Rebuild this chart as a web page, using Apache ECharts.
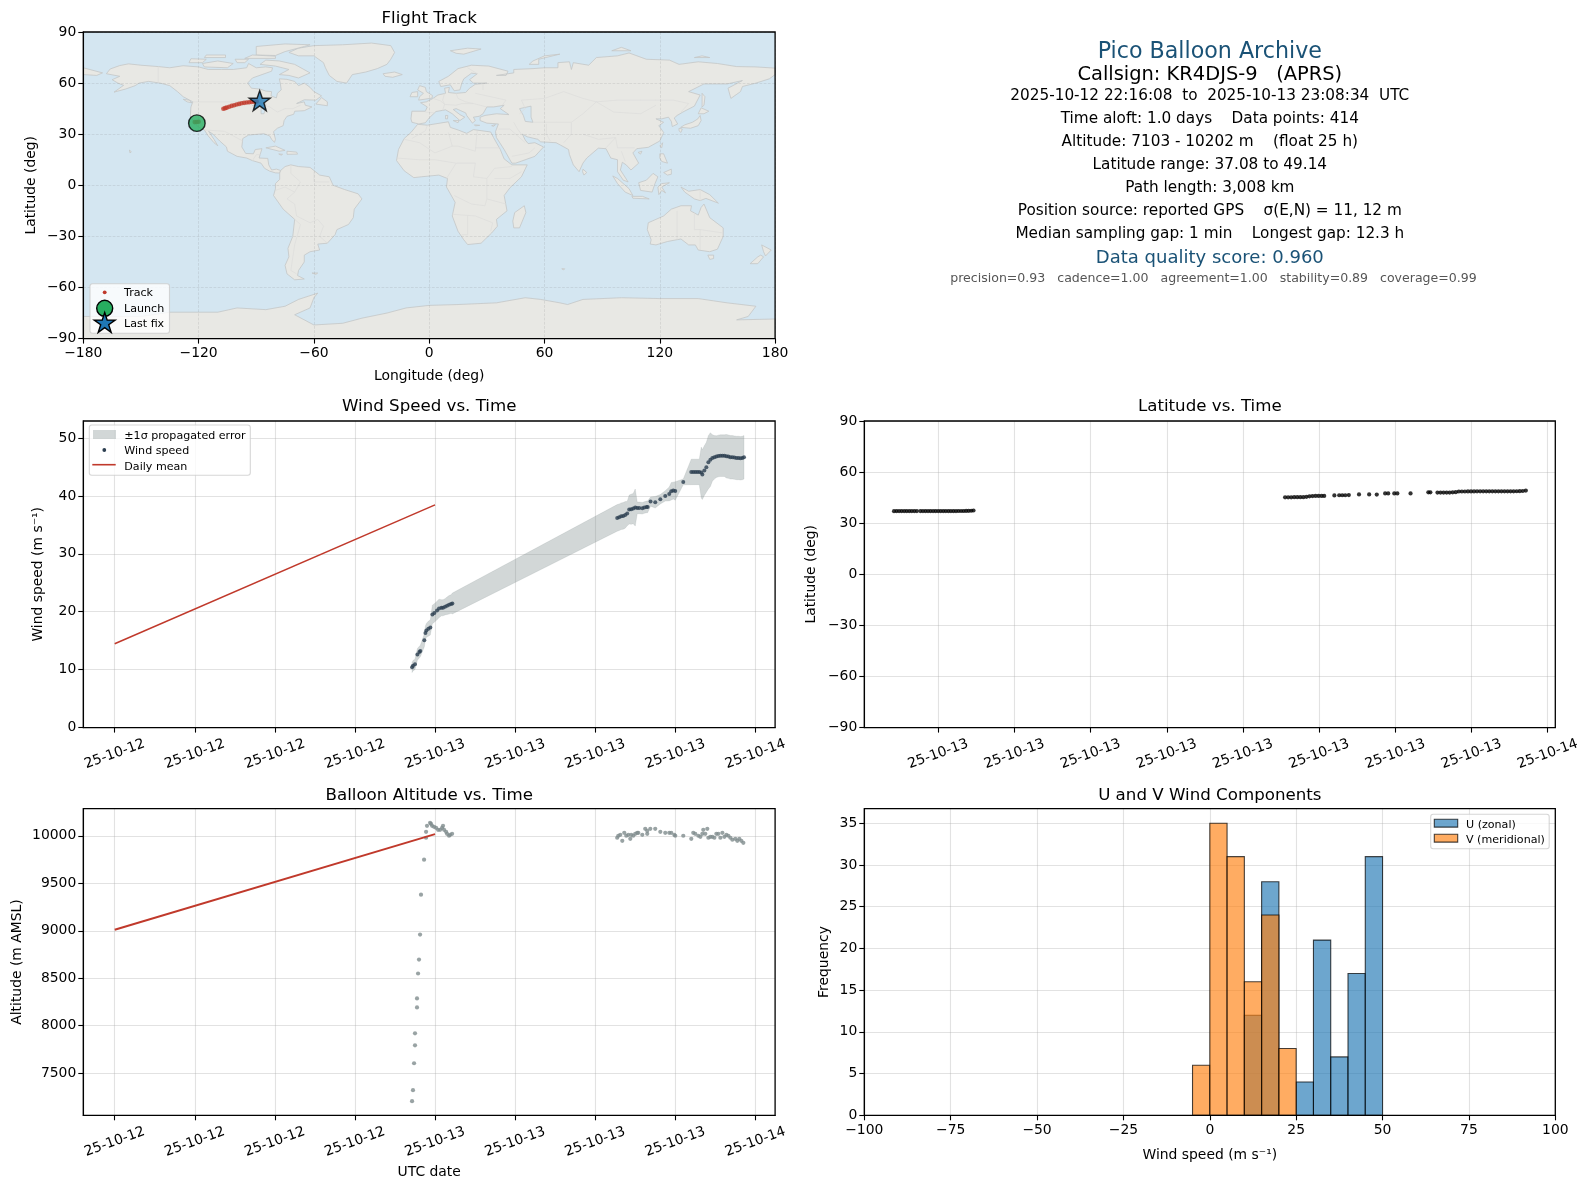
<!DOCTYPE html>
<html><head><meta charset="utf-8">
<style>html,body{margin:0;padding:0;background:#fff}#c{width:1588px;height:1189px}</style>
<script src="https://cdn.jsdelivr.net/npm/echarts@6/dist/echarts.min.js"></script>
</head><body><div id="c"></div>
<script>
// ---------- chart values ----------
const windHours=[22.28,22.35,22.5,22.68,22.83,22.9,23.2,23.28,23.35,23.5,23.65,23.8,23.95,24.15,24.3,24.48,24.6,24.75,24.9,25.05,25.2,25.3,
37.65,37.8,37.95,38.1,38.25,38.4,38.55,38.7,38.85,39,39.15,39.3,39.53,39.68,39.85,39.93,40.15,40.5,40.88,41.25,41.55,41.7,41.85,42,42.6,43.2,43.35,43.5,43.65,43.8,43.95,44.03,44.18,44.33,44.48,44.63,44.78,44.93,45.08,45.23,45.38,45.53,45.68,45.83,45.98,46.13,46.28,46.43,46.58,46.73,46.88,47.03,47.15];
const windSpeed=[10.4,10.69,10.92,12.64,13.04,13.22,15.06,16.32,16.78,17.07,17.3,19.54,19.77,20.23,20.57,20.69,20.69,20.86,21.03,21.2,21.32,21.43,
36.2,36.32,36.49,36.55,36.72,36.95,37.64,37.7,37.81,37.99,37.93,37.93,37.87,37.99,38.1,38.1,39.02,38.91,39.42,40,40.34,40.8,40.92,40.86,42.41,44.14,44.14,44.14,44.14,44.14,44.02,43.68,44.37,44.94,45.8,46.26,46.55,46.66,46.78,46.89,46.95,46.95,46.95,46.84,46.78,46.66,46.66,46.61,46.55,46.55,46.49,46.55,46.66];
const windSigma=[0.9,0.9,0.9,1,1,1,1.1,1.2,1.2,1.3,1.3,1.6,1.6,1.6,1.6,1.4,1.4,1.4,1.5,1.6,1.6,1.8,
2.3,2.3,2.3,2.3,2.3,2.1,2.5,2.6,2.6,3.2,1,1,1,1,1,1,0.8,1,0.8,0.9,1.2,1.5,1.45,1.6,0.5,2.2,2.2,2.2,2.2,2.2,4.4,4.3,4.3,4.3,4.6,4.65,4,3.75,3.6,3.6,3.6,3.6,3.6,3.75,3.75,3.75,3.75,3.75,3.75,3.75,3.75,3.75,3.75];
const latHours=[22.26,22.36,22.46,22.56,22.66,22.76,22.86,22.96,23.06,23.16,23.3,23.4,23.5,23.6,23.7,23.8,23.9,24,24.1,24.2,24.3,24.4,24.5,24.6,24.7,24.8,24.9,25,25.1,25.2,25.3,25.39,
37.66,37.78,37.9,38.02,38.14,38.26,38.38,38.5,38.62,38.74,38.86,38.98,39.1,39.2,39.6,39.79,39.91,40.03,40.17,40.57,40.97,41.27,41.6,41.72,41.96,42.08,42.6,43.3,43.38,43.66,43.78,43.9,44.02,44.14,44.26,44.38,44.5,44.62,44.74,44.86,44.98,45.1,45.22,45.34,45.46,45.58,45.7,45.82,45.94,46.06,46.18,46.3,46.42,46.54,46.66,46.78,46.9,47.02,47.14];
const latitude=[37.08,37.1,37.1,37.1,37.1,37.12,37.12,37.12,37.12,37.12,37.1,37.12,37.12,37.12,37.14,37.14,37.14,37.14,37.14,37.14,37.14,37.14,37.14,37.14,37.14,37.16,37.16,37.16,37.2,37.25,37.3,37.45,
45.2,45.2,45.2,45.25,45.25,45.3,45.3,45.5,45.8,45.95,46,46,46,46,46.3,46.4,46.4,46.4,46.5,46.9,46.9,46.8,47.5,47.5,47.5,47.5,47.5,48.1,48.1,48,48,48,48,48,48.1,48.2,48.6,48.6,48.6,48.65,48.65,48.65,48.7,48.7,48.7,48.7,48.7,48.7,48.7,48.7,48.7,48.7,48.7,48.7,48.7,48.75,48.8,48.9,49.14];
const altHours=[22.28,22.35,22.43,22.5,22.5,22.65,22.65,22.73,22.8,22.88,22.95,23.18,23.33,23.33,23.4,23.63,23.7,23.78,23.93,24.08,24.23,24.38,24.53,24.6,24.68,24.83,24.9,25.05,25.13,25.28,
37.65,37.73,37.88,38.03,38.18,38.33,38.48,38.63,38.7,38.85,39,39.15,39.23,39.53,39.75,39.9,39.9,40.13,40.5,40.88,41.25,41.55,41.7,41.93,42,42.6,43.2,43.35,43.5,43.73,43.88,44.03,44.1,44.25,44.4,44.48,44.63,44.78,44.93,45.08,45.23,45.38,45.53,45.68,45.83,45.98,46.13,46.28,46.5,46.65,46.8,46.95,47.1];
const altitude=[7206,7321,7605,7794,7920,8193,8288,8550,8697,8960,9380,9748,9979,10042,10105,10136,10126,10105,10094,10084,10063,10063,10084,10105,10063,10042,10021,10000,10010,10021,
9979,10000,10010,9947,10031,10000,10010,9968,10010,10000,10021,10031,10031,10010,10073,10021,10052,10073,10073,10042,10031,10031,10031,10010,10000,10000,9968,10031,10021,10000,9989,10021,10063,10021,10073,9979,9989,9989,9979,10021,10021,9979,10031,9989,10010,10000,9979,9958,9968,9947,9968,9947,9926];
const meanHours=[0,24];
const windMean=[14.48,38.45];
const altMean=[9010,10017];
const trackLon=[-122,-121,-120,-107.1,-106.2,-105.4,-104.1,-102.8,-101.5,-100.2,-98.9,-97.6,-96.3,-95,-93.7,-92.4,-91.1,-89.8];
const trackLat=[37.1,37.2,37.3,44.9,45.3,45.6,46.1,46.6,47,47.4,47.8,48.2,48.4,48.6,48.8,49,49.1,49.2];
const launch=[-120.9,36.5];
const lastFix=[-88.2,49.14];
const binLeft=[-5,0,5,10,15,20,25,30,35,40,45];
const binWidth=5;
const uCounts=[0,0,0,12,28,0,4,21,7,17,31];
const vCounts=[6,35,31,16,24,8,0,0,0,0,0];
const leftTimeTicks=[0,6,12,18,24,30,36,42,48];
const rightTimeTicks=[24,27,30,33,36,39,42,45,48];
const windTicks=[0,10,20,30,40,50];
const altTicks=[7500,8000,8500,9000,9500,10000];
const freqTicks=[0,5,10,15,20,25,30,35];
const infoLines=[
 ["Pico Balloon Archive",22.2,"#1a5276",52,1209.8],
 ["Callsign: KR4DJS-9   (APRS)",19.44,"#000",74.7,1209.8],
 ["2025-10-12 22:16:08  to  2025-10-13 23:08:34  UTC",15.28,"#000",96.3,1209.8],
 ["Time aloft: 1.0 days    Data points: 414",15.28,"#000",119.3,1209.8],
 ["Altitude: 7103 - 10202 m    (float 25 h)",15.28,"#000",142.3,1209.8],
 ["Latitude range: 37.08 to 49.14",15.28,"#000",165.3,1209.8],
 ["Path length: 3,008 km",15.28,"#000",188.3,1209.8],
 ["Position source: reported GPS    σ(E,N) = 11, 12 m",15.28,"#000",211.3,1209.8],
 ["Median sampling gap: 1 min    Longest gap: 12.3 h",15.28,"#000",234.3,1209.8],
 ["Data quality score: 0.960",18.05,"#1a5276",258.7,1209.8],
 ["precision=0.93   cadence=1.00   agreement=1.00   stability=0.89   coverage=0.99",12.55,"#555",278.7,1213.5]
];
// simplified coastlines, [lon,lat] rings
const oceanRing=[[-180,-90],[180,-90],[180,90],[-180,90]];
const landRings=[
[[-168,65.5],[-166,68.3],[-161,70.3],[-156.5,71.3],[-150,70.5],[-141,69.7],[-135,69],[-128,70.2],[-120,69.5],[-115,68],[-108,68],[-102,68],[-95,69],[-94,71.5],[-90,69],[-85,69.5],[-81.5,69],[-82,67],[-87,65],[-92,63],[-94.5,60],[-92.5,57],[-88,56.5],[-85,55.3],[-82,55],[-82.3,52.5],[-79.5,51.3],[-79,54],[-77,56],[-77.5,60],[-78,62.5],[-74,62.2],[-70,61],[-68,58.5],[-65,60],[-62,57.5],[-60,55],[-56,52.5],[-59,50],[-65,50.2],[-69,48],[-65,49],[-64.5,47],[-61,46],[-65,43.8],[-70,43.5],[-70.5,41.7],[-74,40.5],[-75.5,38],[-76,35],[-79,33.5],[-81,31.5],[-80,27],[-80.5,25.2],[-82,27],[-83,29],[-86,30.3],[-89,30],[-94,29.5],[-97,27.5],[-97.5,22.5],[-95.5,18.7],[-91.5,18.5],[-90.5,21],[-87,21.5],[-88,18],[-88.5,16],[-84,15.8],[-83.5,12],[-82,9],[-79.5,9.5],[-77.3,8.7],[-77.8,7.2],[-80,7.3],[-83,8.3],[-85.7,10],[-87.5,13],[-92,14.5],[-95,16],[-100,17],[-105,20],[-105.5,22.5],[-109,26],[-112.5,30],[-114.8,31.7],[-112,27],[-110,23.2],[-112,25],[-115,29],[-117,32.5],[-120.5,34.5],[-122.5,37.5],[-124.3,40.5],[-124,46],[-123,49],[-128,52],[-131,55],[-135,58.5],[-140,60],[-146,61],[-151,60],[-153,58.5],[-158,56.5],[-164,54.7],[-159,58.7],[-162,60],[-165,62],[-161,64]],
[[-77.3,8.7],[-75,11],[-72,12],[-68,11],[-62,10.5],[-57,6],[-52,5],[-50,0],[-44,-2.5],[-37,-5],[-35,-8],[-39,-14],[-39.5,-19],[-42,-23],[-48,-26],[-49,-29],[-53,-34],[-58,-34.5],[-57,-38],[-62,-39],[-65,-41],[-65,-45],[-68,-50],[-68.5,-53],[-65,-55],[-70,-55.5],[-74,-52],[-75,-47],[-73,-42],[-73.5,-37],[-71,-30],[-70,-20],[-76,-14],[-81,-6],[-80,-2],[-80,1],[-77.8,3.5],[-77.8,7.2]],
[[-73,78],[-68,80.5],[-60,82],[-45,82.5],[-30,83.5],[-20,82],[-18,78],[-20,74],[-22,71],[-27,68.5],[-33,66.5],[-40,65],[-43,60],[-48,61],[-52,64.5],[-54,69],[-55,72],[-60,76],[-68,76]],
[[-62,66],[-68,63],[-73,64.5],[-78,65],[-73,68],[-80,70],[-88,71],[-85,73.5],[-78,73],[-70,71]],
[[-90,76.5],[-80,76.2],[-75,78.5],[-65,81.5],[-62,82.5],[-75,83],[-90,81.5]],
[[-117,69.5],[-105,69],[-102,71.5],[-110,73],[-118,71.5]],
[[-125,72],[-118,72],[-116,74],[-124,74.3]],
[[-96,74.5],[-80,74.5],[-80,75.8],[-92,76.5]],
[[-117,75],[-106,75],[-106,76.5],[-116,76.5]],
[[-100,72],[-96,72],[-94,74],[-101,74]],
[[-59,47.7],[-53,46.7],[-53,49],[-56,51.5]],
[[-85,22],[-80,23],[-75,20.5],[-78,20]],
[[-74,20],[-69,19.5],[-68.5,18.3],[-74,18.2]],
[[-78.3,18.4],[-76.3,18.2],[-77,17.7]],
[[-24,65.5],[-18,66.5],[-14,65],[-19,63.4],[-23,64]],
[[-128,50.5],[-125,50],[-123.5,48.4],[-126,49]],
[[-156,20.7],[-155,19.7],[-155.7,19]],
[[-5.5,50],[1.5,51.2],[1.7,52.7],[-1.5,55],[-2,57.5],[-5,58.5],[-6,56],[-3,54],[-5,52]],
[[-10,52],[-6,52],[-6,55],[-9,54.5]],
[[-9,37],[-9.5,39],[-9,43.5],[-2,43.5],[-1,46],[-4.5,48.5],[-1.5,49],[2,51],[4.5,53],[8.5,54],[8,57],[10.5,57.5],[10,54.5],[14,54],[19,54.5],[21,57],[24,59.3],[30,60],[23,60],[21,62],[25,65.5],[22,65.8],[18,62.5],[17,60],[16,56],[13,55.5],[11,59],[6,58],[5,61],[10,64],[15,68.5],[22,70.5],[31,70],[41,67],[40,64.5],[35,64.5],[44,66],[44,68],[54,68.5],[60,69],[67,69],[67,72],[73,72.5],[74,68],[75,72],[83,70.5],[87,75],[98,76],[104,77.7],[113,74],[125,73.5],[130,71],[140,72.5],[150,71.5],[160,69.7],[170,69.5],[180,68.8],[180,65],[177,62.5],[170,60],[163,58],[162,55],[157,51],[155.5,57],[163,61.5],[155,59.5],[143,59.5],[135,55],[141,53],[138,46.5],[132,43],[129,41],[127.5,39.5],[129.3,36],[126.5,34.5],[126,37.5],[124.5,40],[121,39],[118,39],[122,37],[119.5,35],[122,31],[120,26],[114,22.3],[108,21.5],[106,19],[109,13],[105,9],[102.5,12],[100.5,13.5],[99.5,9],[103.5,2],[101,3],[98,8],[98,15],[94.5,16],[92,21.5],[88,21.8],[82,16],[80,13],[78,8],[75,12],[73,18],[72.5,21],[68.5,23.5],[66,25],[58,25.5],[56.5,27],[51,28.5],[48.5,30],[50,26.5],[51.5,24.5],[55,25],[59.5,22.5],[55,17],[45,13],[43,13],[39,21],[35,28],[34.5,31.5],[36,36],[30,36.5],[26.5,38],[26.5,40],[29,41],[35,42],[41.5,41.5],[37,45],[39,47],[33.5,46],[30,46],[28,42],[26,40.5],[23,40],[24,38],[22.5,36.5],[19.5,41],[19,42.5],[14,45],[12.5,44.5],[16,41.5],[18.5,40],[16,38],[12,42],[8.5,44.3],[3.5,43.3],[0,39.5],[-2,36.7],[-5.5,36]],
[[-6,35.8],[-1,35.3],[10,37.3],[11,34],[15,32.5],[19.5,30.5],[23,32.7],[32,31.3],[33.5,28],[37,21],[39,15.5],[43,12],[51,12],[48,5],[42,-1.5],[39,-6],[40.5,-15],[35,-20],[35.5,-24],[32.5,-28],[27,-34],[20,-34.8],[18,-32],[15,-27],[12,-18],[13.5,-10],[9,-1],[9.5,4],[5,6],[-4,5],[-8,4.5],[-13,8.5],[-17,14.5],[-16,21],[-13,27.5],[-9.5,31]],
[[49.5,-12],[50.3,-16],[47,-25],[44,-25],[43.5,-21],[44.5,-16]],
[[80,9.5],[82,7.5],[80.5,6],[79.8,8]],
[[130.8,34],[136,33.5],[140,35],[141.5,38],[141,41],[139.8,39],[137,37],[133,35.5]],
[[140,42],[141.5,45.5],[145.5,43.5],[143,42]],
[[130,33.5],[131.7,33],[131,31],[130,32]],
[[142,54],[143.5,52],[143,47],[142,46],[142,50]],
[[120,23],[121.5,25],[121,22]],
[[108.7,19.3],[110.7,20],[110,18.3]],
[[120,18.5],[122,18.5],[124,13],[121,14],[120,16]],
[[122,7.5],[126,9.5],[126,6.5],[124,6]],
[[95.5,5.5],[98,4],[104,-2],[106,-6],[102,-4],[98,1]],
[[105.5,-6.5],[111,-6.5],[114.5,-8],[106,-7.6]],
[[109,1.5],[113,3],[116.5,7],[119,5],[117.5,1],[116,-4],[110,-3]],
[[119.5,-5.5],[119,-1],[121,1],[125,1.5],[121,-1],[123,-4.5],[121,-3]],
[[131,-1],[135,-3.5],[141,-2.5],[146,-5.5],[150.5,-10.5],[144,-7.7],[141,-9],[138,-8],[133,-4]],
[[114,-22],[113.5,-26],[115.5,-32],[115,-34.5],[118,-35],[124,-33],[131,-31.5],[135,-35],[138.5,-35],[140,-38],[146,-39],[150,-37.5],[153,-30],[153,-25],[146,-19],[143,-11],[141.5,-13],[140,-17.5],[136,-15],[136.5,-12],[131,-12],[126,-14],[122,-18]],
[[145,-41],[148,-41],[148,-43],[146,-43.5]],
[[173,-35],[178,-38],[175,-41.5],[174,-39]],
[[172.5,-41],[174,-42],[171,-46],[167,-46],[171,-42]],
[[11,79],[20,80.5],[27,80],[18,77],[14,77.5]],
[[52,71],[57,71],[57,74],[68,77],[60,76],[54,73]],
[[95,79],[105,79],[100,81]],
[[138,75],[146,75],[142,76]],
[[8.5,41],[9.7,41],[9.5,39],[8.5,39]],
[[12.5,38],[15.5,38],[15,36.7]],
[[23.5,35.5],[26.3,35.2],[24,34.9]],
[[32.5,35],[34.5,35.6],[33.5,34.6]],
[[-61,-51.5],[-58,-51.5],[-59,-52.3]],
[[69,-49],[70.5,-49],[70,-49.7]],
[[-180,69],[-170,66],[-173,64.5],[-180,65]],
[[-180,-90],[-180,-77],[-150,-77],[-135,-74.5],[-110,-74.5],[-100,-72],[-85,-73],[-75,-71],[-68,-67],[-58,-63.3],[-60,-66],[-62,-72],[-70,-76],[-60,-82],[-45,-81],[-35,-78],[-22,-75],[-12,-72],[0,-70.5],[15,-70],[35,-69],[50,-66],[58,-67],[68,-69],[72,-70],[80,-67],[100,-66],[120,-66.5],[140,-66.5],[155,-69],[170,-71],[166,-77],[160,-79],[180,-78.5],[180,-90]]
];
const lakeRings=[[[47,45],[53,46.5],[53,40],[54,37],[50,37.5],[49,41]],[[-92,46.8],[-85,46.8],[-85,48],[-89,48.5]],[[-87.5,42],[-86,42],[-85,45.5],[-87.5,45.5]]];
const borderLines=[
[[-123,49],[-95,49],[-89,48],[-83,46],[-79,43],[-75,45],[-71,45],[-67,47]],[[-141,69.7],[-141,60]],[[-117,32.5],[-106.5,31.7],[-97,26]],[[-92,14.5],[-90,18],[-88,18]],
[[-72,12],[-72,7],[-67,2],[-70,-4],[-74,-8],[-70,-11],[-69,-18],[-62,-22],[-58,-20],[-55,-24],[-57,-30],[-53,-34]],[[-70,-20],[-67,-23],[-70,-35],[-72,-50],[-69,-52]],[[-80,-3],[-75,-1],[-70,-4]],[[-60,8],[-60,2],[-52,2]],
[[-2,43],[3,42.5]],[[2,51],[6,49.5],[8,47.5],[7,44]],[[8,54],[7,50],[8,47.5],[14,47],[17,48],[23,48],[30,46]],[[14,54],[15,51],[19,49],[23,48]],[[24,54],[32,52],[40,50],[38,47]],[[28,56],[28,60]],[[20,69],[25,65.5]],
[[47,42],[50,45],[48,50],[60,51],[70,55],[80,51],[87,49],[98,50],[110,50],[118,50],[127,50],[135,48],[131,43]],[[87,49],[80,42],[74,37],[66,37],[54,37]],[[87,49],[96,43],[110,42],[118,47]],[[61,36],[61,30],[63,26]],[[74,37],[74,30],[70,25]],[[80,30],[88,27],[97,28],[98,22],[102,22],[107,22]],[[97,28],[92,22]],[[100,20],[102,14]],[[44,37],[46,33],[48,30]],[[36,33],[42,33],[46,29],[50,25]],[[43,17],[52,19],[55,22]],
[[-9,27.5],[-2,32],[-1,35]],[[-13,27],[-5,25],[3,19],[12,23],[10,31]],[[12,23],[15,23],[24,20],[25,32]],[[24,22],[37,22]],[[-17,16],[-5,15],[3,15],[14,13],[24,13],[23,5],[30,4],[34,10],[43,11]],[[14,13],[9,4]],[[30,4],[30,-8],[29,-12],[22,-11],[13,-6]],[[30,-8],[40,-11]],[[12,-17],[24,-18],[33,-22],[32,-27]],[[20,-18],[20,-29],[17,-29]],[[34,4],[42,4],[48,8]],
[[129,-15],[129,-32]],[[138,-16],[138,-26],[141,-26],[141,-38]],[[141,-26],[153,-28]],[[141,-2.5],[141,-9]]
];
// ---------- helpers ----------
const FONT='"DejaVu Sans"';
const GRID='rgba(176,176,176,0.36)';
const dateBase=Date.UTC(2025,9,12);
const pad=n=>String(n).padStart(2,'0');
function dateLabel(h){const d=new Date(dateBase+h*3.6e6);return pad(d.getUTCFullYear()%100)+'-'+pad(d.getUTCMonth()+1)+'-'+pad(d.getUTCDate());}
const minus=v=>String(v).replace('-','\u2212');
const zip=(a,b)=>a.map((v,i)=>[v,b[i]]);
const gridOf=(l,t,w,h)=>({left:l,top:t,width:w,height:h,containLabel:false,show:true,z:10,borderColor:'#000',borderWidth:1.3,backgroundColor:'transparent'});
function axis(extra){
 const ax=Object.assign({type:'value',scale:false,
  axisLine:{show:true,onZero:false,lineStyle:{color:'#000',width:1.1}},
  axisTick:{show:true,length:5,lineStyle:{color:'#000',width:1.1}},
  axisLabel:{color:'#000',fontFamily:FONT,fontSize:13.9,margin:8,hideOverlap:false,showMinLabel:true,showMaxLabel:true},
  splitLine:{show:true,lineStyle:{color:GRID,width:1.1}},
  nameLocation:'middle',nameTextStyle:{color:'#000',fontFamily:FONT,fontSize:13.9}},extra);
 if(extra.tickValues){
  ax.axisTick=Object.assign({},ax.axisTick,{customValues:extra.tickValues});
  ax.axisLabel=Object.assign({},ax.axisLabel,{customValues:extra.tickValues},extra.label||{});
  delete ax.tickValues;
 } else if(extra.label){ax.axisLabel=Object.assign({},ax.axisLabel,extra.label);}
 delete ax.label;
 return ax;
}
const rotLabel={rotate:20,align:'center',verticalAlign:'middle',margin:26.5,formatter:dateLabel};
const yLabel={margin:7};
const titleAt=(text,cx,top)=>({text,left:cx,top,textAlign:'center',padding:0,textStyle:{color:'#000',fontFamily:FONT,fontSize:16.67,fontWeight:'normal'}});
function ringSeries(rings,name,style,z,gridIdx){
 return {type:'custom',name,xAxisIndex:gridIdx,yAxisIndex:gridIdx,z,silent:true,animation:false,clip:true,
  data:rings.map((r,i)=>[i]),encode:{x:[],y:[]},
  renderItem:(p,api)=>({type:'polygon',shape:{points:rings[p.dataIndex].map(c=>api.coord(c))},style}),
  tooltip:{show:false}};
}
function lineSeries(lines,name,style,z,gridIdx){
 return {type:'custom',name,xAxisIndex:gridIdx,yAxisIndex:gridIdx,z,silent:true,animation:false,clip:true,
  data:lines.map((r,i)=>[i]),encode:{x:[],y:[]},
  renderItem:(p,api)=>({type:'polyline',shape:{points:lines[p.dataIndex].map(c=>api.coord(c))},style})};
}
function histSeries(counts,name,fill){
 const data=binLeft.map((l,i)=>[l,counts[i]]).filter(d=>d[1]>0);
 return {type:'custom',name,xAxisIndex:4,yAxisIndex:4,z:3,animation:false,data,encode:{x:0,y:1},
  renderItem:(p,api)=>{
   const a=api.coord([api.value(0),api.value(1)]),b=api.coord([api.value(0)+binWidth,0]);
   return {type:'rect',shape:{x:a[0],y:a[1],width:b[0]-a[0],height:b[1]-a[1]},style:{fill,stroke:'rgba(0,0,0,0.72)',lineWidth:1.1}};
  }};
}
const STAR='path://M0,-10 L2.35,-3.09 9.51,-3.09 3.8,1.18 5.88,8.09 0,3.82 -5.88,8.09 -3.8,1.18 -9.51,-3.09 -2.35,-3.09Z';
function starPts(cx,cy,r){const o=[];for(let i=0;i<10;i++){const a=-Math.PI/2+i*Math.PI/5,q=i%2?r*0.382:r;o.push([cx+q*Math.cos(a),cy+q*Math.sin(a)]);}return o;}
function legText(text,x,y){return {type:'text',z:101,silent:true,style:{text,x,y:y+1,fill:'#000',font:'11.1px '+FONT,textAlign:'left',textVerticalAlign:'middle',textBaseline:'middle'}};}
function legBox(x,y,w,h){return {type:'rect',z:100,silent:true,shape:{x,y,width:w,height:h,r:2.5},style:{fill:'rgba(255,255,255,0.8)',stroke:'rgba(204,204,204,0.8)',lineWidth:1.1}};}
const graphics=[];
infoLines.forEach(l=>graphics.push({type:'text',z:50,silent:true,style:{text:l[0],x:l[4],y:l[3],fill:l[2],font:l[1]+'px '+FONT,textAlign:'center',textVerticalAlign:'middle',textBaseline:'middle'}}));
// map legend
graphics.push(legBox(90,283.7,79.5,49.6),
 {type:'circle',z:101,silent:true,shape:{cx:104.7,cy:292.3,r:1.9},style:{fill:'#c0392b'}},legText('Track',124,292.3),
 {type:'circle',z:101,silent:true,shape:{cx:104.7,cy:308.3,r:8},style:{fill:'#27ae60',stroke:'#000',lineWidth:1.4}},legText('Launch',124,308.3),
 {type:'polygon',z:102,silent:true,shape:{points:starPts(104.7,323.5,11)},style:{fill:'#1f77b4',stroke:'#000',lineWidth:1.4}},legText('Last fix',124,323.3));
// wind legend
graphics.push(legBox(89.3,425,161,50.3),
 {type:'rect',z:101,silent:true,shape:{x:93,y:430,width:23,height:9},style:{fill:'rgba(127,140,141,0.35)'}},legText('\u00b11\u03c3 propagated error',124.3,435.3),
 {type:'circle',z:101,silent:true,shape:{cx:104.3,cy:450,r:1.9},style:{fill:'#2c3e50'}},legText('Wind speed',124.3,450),
 {type:'line',z:101,silent:true,shape:{x1:92.3,y1:464.7,x2:115.7,y2:464.7},style:{stroke:'#c0392b',lineWidth:1.6}},legText('Daily mean',124.3,466));
// histogram legend
graphics.push(legBox(1430.7,814.3,118.5,34.4),
 {type:'rect',z:101,silent:true,shape:{x:1434.3,y:819.3,width:23.4,height:7.8},style:{fill:'rgba(31,119,180,0.65)',stroke:'rgba(0,0,0,0.72)',lineWidth:1.1}},legText('U (zonal)',1466,824),
 {type:'rect',z:101,silent:true,shape:{x:1434.3,y:834.3,width:23.4,height:7.8},style:{fill:'rgba(255,127,14,0.65)',stroke:'rgba(0,0,0,0.72)',lineWidth:1.1}},legText('V (meridional)',1466,839));

const option={
 backgroundColor:'#fff',animation:false,
 textStyle:{fontFamily:FONT},
 title:[titleAt('Flight Track',429.2,10.5),titleAt('Wind Speed vs. Time',429.2,398.5),titleAt('Latitude vs. Time',1209.8,398.5),titleAt('Balloon Altitude vs. Time',429.2,787.5),titleAt('U and V Wind Components',1209.8,787.5)],
 grid:[gridOf(83.3,32,691.8,306.6),gridOf(83.3,421,691.8,306.6),gridOf(864.3,421,691,306.6),gridOf(83.3,808.7,691.8,306.6),gridOf(864.3,808.7,691,306.6)],
 xAxis:[
  axis({gridIndex:0,min:-180,max:180,interval:60,name:'Longitude (deg)',nameGap:30.5,z:2,label:{formatter:minus},splitLine:{show:true,lineStyle:{color:'rgba(120,120,120,0.22)',width:0.7,type:'dashed'}}}),
  axis({gridIndex:1,min:-2.352,max:49.48,tickValues:leftTimeTicks,label:rotLabel}),
  axis({gridIndex:2,min:21.09,max:48.3,tickValues:rightTimeTicks,label:rotLabel}),
  axis({gridIndex:3,min:-2.352,max:49.48,tickValues:leftTimeTicks,label:rotLabel,name:'UTC date',nameGap:50.5}),
  axis({gridIndex:4,min:-100,max:100,interval:25,name:'Wind speed (m s\u207b\u00b9)',nameGap:33.5,label:{formatter:minus}})
 ],
 yAxis:[
  axis({gridIndex:0,min:-90,max:90,interval:30,name:'Latitude (deg)',nameGap:45,z:2,label:Object.assign({formatter:minus},yLabel),splitLine:{show:true,lineStyle:{color:'rgba(120,120,120,0.22)',width:0.7,type:'dashed'}}}),
  axis({gridIndex:1,min:0,max:52.93,tickValues:windTicks,name:'Wind speed (m s\u207b\u00b9)',nameGap:38,label:yLabel}),
  axis({gridIndex:2,min:-90,max:90,interval:30,name:'Latitude (deg)',nameGap:46,label:Object.assign({formatter:minus},yLabel)}),
  axis({gridIndex:3,min:7057,max:10285,tickValues:altTicks,name:'Altitude (m AMSL)',nameGap:59,label:Object.assign({formatter:v=>String(v)},yLabel)}),
  axis({gridIndex:4,min:0,max:36.75,tickValues:freqTicks,name:'Frequency',nameGap:33,label:yLabel})
 ],
 series:[
  ringSeries([oceanRing],'Ocean',{fill:'#d4e6f1'},1,0),
  ringSeries(landRings,'Land',{fill:'#e8e8e4',stroke:'#c4c6c6',lineWidth:0.8},1,0),
  ringSeries(lakeRings,'Lakes',{fill:'#d4e6f1',stroke:'#c4c6c6',lineWidth:0.8},1,0),
  lineSeries(borderLines,'Borders',{fill:'none',stroke:'#dddddb',lineWidth:0.7},1,0),
  {type:'scatter',name:'Track',xAxisIndex:0,yAxisIndex:0,z:5,symbolSize:4.6,itemStyle:{color:'#c0392b'},data:zip(trackLon,trackLat)},
  {type:'scatter',name:'Launch',xAxisIndex:0,yAxisIndex:0,z:6,symbolSize:16.5,itemStyle:{color:'#27ae60',borderColor:'#000',borderWidth:1.4},data:[launch]},
  {type:'scatter',name:'Last fix',xAxisIndex:0,yAxisIndex:0,z:7,symbol:STAR,symbolSize:[21,20],symbolOffset:[0,-1],itemStyle:{color:'#1f77b4',borderColor:'#000',borderWidth:1.4},data:[lastFix]},
  {type:'custom',name:'\u00b11\u03c3 propagated error',xAxisIndex:1,yAxisIndex:1,z:2,silent:true,clip:true,data:[[0]],encode:{x:[],y:[]},
   renderItem:(p,api)=>{
    const up=windHours.map((h,i)=>api.coord([h,windSpeed[i]+windSigma[i]]));
    const lo=windHours.map((h,i)=>api.coord([h,windSpeed[i]-windSigma[i]])).reverse();
    return {type:'polygon',shape:{points:up.concat(lo)},style:{fill:'rgba(127,140,141,0.35)',stroke:'rgba(127,140,141,0.2)',lineWidth:0.8}};
   }},
  {type:'scatter',name:'Wind speed',xAxisIndex:1,yAxisIndex:1,z:4,symbolSize:4,itemStyle:{color:'#2c3e50'},data:zip(windHours,windSpeed)},
  {type:'line',name:'Daily mean',xAxisIndex:1,yAxisIndex:1,z:3,showSymbol:false,lineStyle:{color:'#c0392b',width:1.5},data:zip(meanHours,windMean)},
  {type:'scatter',name:'Latitude',xAxisIndex:2,yAxisIndex:2,z:3,symbolSize:4.2,itemStyle:{color:'#000'},data:zip(latHours,latitude)},
  {type:'scatter',name:'Altitude',xAxisIndex:3,yAxisIndex:3,z:3,symbolSize:4.2,itemStyle:{color:'#7f8c8d'},data:zip(altHours,altitude)},
  {type:'line',name:'Daily mean altitude',xAxisIndex:3,yAxisIndex:3,z:4,showSymbol:false,lineStyle:{color:'#c0392b',width:2},data:zip(meanHours,altMean)},
  histSeries(uCounts,'U (zonal)','rgba(31,119,180,0.65)'),
  histSeries(vCounts,'V (meridional)','rgba(255,127,14,0.65)')
 ],
 graphic:{elements:graphics}
};
const chart=echarts.init(document.getElementById('c'),null,{renderer:'canvas',width:1588,height:1189});
chart.setOption(option);
</script></body></html>
